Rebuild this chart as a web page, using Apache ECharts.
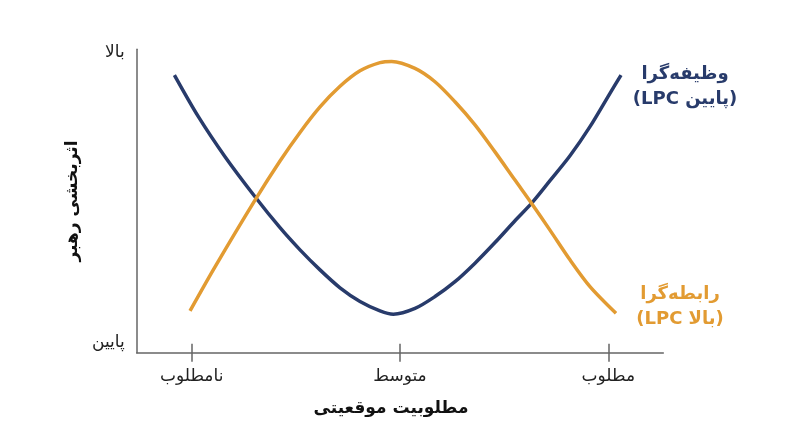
<!DOCTYPE html>
<html>
<head>
<meta charset="utf-8">
<script src="https://cdn.jsdelivr.net/npm/echarts@6/dist/echarts.min.js"></script>
<style>html,body{margin:0;padding:0;background:#fff}#c{width:800px;height:447px}</style>
</head>
<body>
<div id="c"></div>
<script>
// Situational favourableness positions (0 = unfavourable, 1 = moderate, 2 = favourable)
const xCategories = ['نامطلوب', 'متوسط', 'مطلوب'];
const xTickValues = [0, 1, 2];
const yTickValues = [3.5, 99];
const yTickLabels = ['پایین', 'بالا'];
const xName = 'مطلوبیت موقعیتی';
const yName = 'اثربخشی رهبر';

const taskName = 'وظیفه‌گرا\n(LPC پایین)';
const taskX = [-0.083, 0.032, 0.160, 0.304, 0.424, 0.520, 0.616, 0.712, 0.808, 0.904, 0.968, 1.072, 1.168, 1.264, 1.360, 1.456, 1.552, 1.632, 1.720, 1.816, 1.912, 2.008, 2.061];
const taskY = [91.5, 77.8, 64.6, 51.4, 41.2, 33.9, 27.3, 21.4, 16.9, 13.8, 12.7, 14.6, 18.5, 23.4, 29.5, 36.3, 43.5, 49.3, 56.7, 64.9, 74.5, 85.5, 91.5];

const relName = 'رابطه‌گرا\n(LPC بالا)';
const relX = [-0.008, 0.112, 0.304, 0.424, 0.520, 0.616, 0.712, 0.808, 0.904, 0.960, 1.072, 1.168, 1.264, 1.360, 1.456, 1.552, 1.632, 1.720, 1.816, 1.912, 2.037];
const relY = [13.8, 28.3, 50.3, 63.2, 72.6, 81.0, 87.8, 92.9, 95.6, 96.0, 93.7, 89.3, 82.7, 75.1, 66.2, 56.9, 49.2, 40.4, 30.6, 21.8, 13.0];

const zip = (xs, ys) => xs.map((x, i) => [x, ys[i]]);
const FONT = '"DejaVu Sans", "Noto Sans", sans-serif';
const NAVY = '#283b6b';
const ORANGE = '#e29b32';
const AXIS = '#666666';

const chart = echarts.init(document.getElementById('c'), null, {renderer: 'canvas'});
const xBase = {
  type: 'value', min: -0.264, max: 2.264, position: 'bottom',
  splitLine: {show: false}
};
chart.setOption({
  animation: false,
  backgroundColor: '#ffffff',
  grid: {left: 136.7, right: 136.7, top: 49.3, bottom: 94.3},
  xAxis: [
    Object.assign({}, xBase, {
      name: xName,
      nameLocation: 'middle',
      nameGap: 47,
      nameTextStyle: {fontFamily: FONT, fontSize: 17, fontWeight: 'bold', color: '#111', padding: [0, 18, 0, 0]},
      axisLine: {show: true, onZero: false, lineStyle: {color: AXIS, width: 1.5}},
      axisTick: {show: true, inside: false, length: 9, customValues: xTickValues, lineStyle: {color: AXIS, width: 1.5}},
      axisLabel: {show: true, customValues: xTickValues, margin: 15, fontFamily: FONT, fontSize: 17, color: '#222',
        formatter: v => xCategories[xTickValues.indexOf(v)] || ''}
    }),
    Object.assign({}, xBase, {
      axisLine: {show: false, onZero: false},
      axisTick: {show: true, inside: true, length: 9, customValues: xTickValues, lineStyle: {color: AXIS, width: 1.5}},
      axisLabel: {show: false}
    })
  ],
  yAxis: {
    type: 'value', min: 0, max: 100,
    name: yName, nameLocation: 'middle', nameRotate: 90, nameGap: 56,
    nameTextStyle: {fontFamily: FONT, fontSize: 17, fontWeight: 'bold', color: '#111'},
    axisLine: {show: true, onZero: false, lineStyle: {color: AXIS, width: 1.5}},
    axisTick: {show: false},
    splitLine: {show: false},
    axisLabel: {show: true, customValues: yTickValues, margin: 12, fontFamily: FONT, fontSize: 17, color: '#222',
      formatter: v => yTickLabels[yTickValues.indexOf(v)] || ''}
  },
  series: [
    {
      name: taskName, type: 'line', xAxisIndex: 0, data: zip(taskX, taskY), smooth: 0.3,
      showSymbol: false, lineStyle: {color: NAVY, width: 3.5}, itemStyle: {color: NAVY},
      endLabel: {show: true, formatter: '{a}', position: 'right', distance: 0, align: 'center', verticalAlign: 'middle',
        offset: [64, 12], fontFamily: FONT, fontSize: 18, fontWeight: 'bold', lineHeight: 25, color: NAVY}
    },
    {
      name: relName, type: 'line', xAxisIndex: 0, data: zip(relX, relY), smooth: 0.3,
      showSymbol: false, lineStyle: {color: ORANGE, width: 3.5}, itemStyle: {color: ORANGE},
      endLabel: {show: true, formatter: '{a}', position: 'right', distance: 0, align: 'center', verticalAlign: 'middle',
        offset: [64, -6], fontFamily: FONT, fontSize: 18, fontWeight: 'bold', lineHeight: 25, color: ORANGE}
    }
  ]
});
</script>
</body>
</html>
